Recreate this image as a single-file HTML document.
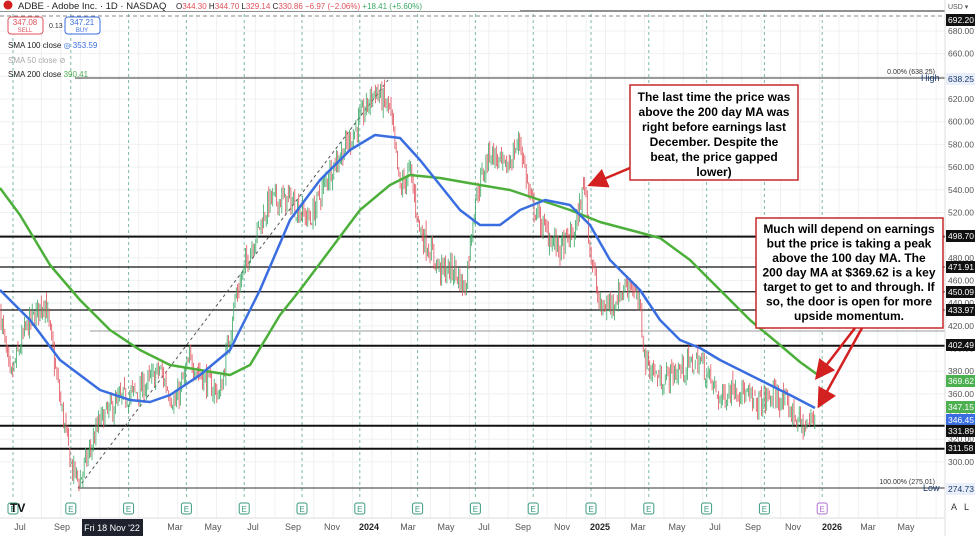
<!DOCTYPE html>
<html><head><meta charset="utf-8"><style>
body{margin:0;background:#fff;width:975px;height:536px;overflow:hidden;font-family:"Liberation Sans",sans-serif}
svg{display:block}
.ax{font-size:8.5px;fill:#555}
.bx{font-weight:bold;font-size:12px;fill:#000}
</style></head><body>
<svg id="s" width="975" height="536" xmlns="http://www.w3.org/2000/svg"></svg>
<script>
const s=document.getElementById('s');let h='';
const Y=p=>31+(680-p)*1.134;
for(let x=22;x<945;x+=19.45)h+=`<line x1="${x}" y1="14" x2="${x}" y2="518" stroke="#eef0f3"/>`;
for(let p=300;p<=680;p+=20)h+=`<line x1="0" y1="${Y(p)}" x2="945" y2="${Y(p)}" stroke="#eef0f3"/>`;
const months=[[20,'Jul'],[62,'Sep'],[175,'Mar'],[213,'May'],[253,'Jul'],[293,'Sep'],[332,'Nov'],[369,'2024'],[408,'Mar'],[446,'May'],[484,'Jul'],[523,'Sep'],[562,'Nov'],[600,'2025'],[638,'Mar'],[677,'May'],[715,'Jul'],[753,'Sep'],[793,'Nov'],[832,'2026'],[868,'Mar'],[906,'May']];
for(let k=0;k<15;k++){let x=13+57.8*k;h+=`<line x1="${x}" y1="14" x2="${x}" y2="500" stroke="#7fb8a8" stroke-dasharray="3,3"/>`;
 let c=k==14?'#b070d0':'#3a9a80';h+=`<rect x="${x-5}" y="503" width="10" height="11" rx="2" fill="#fff" stroke="${c}"/><text x="${x}" y="512" font-size="8" fill="${c}" text-anchor="middle">E</text>`;}
h+=`<line x1="0" y1="11" x2="945" y2="11" stroke="#222"/><line x1="0" y1="16" x2="945" y2="16" stroke="#888" stroke-dasharray="4,3"/>`;
[498.7,471.91,450.09,433.97,402.49,331.89,311.58].forEach(p=>h+=`<line x1="0" y1="${Y(p)}" x2="945" y2="${Y(p)}" stroke="#111" stroke-width="${p==433.97||p==471.91||p==450.09?1.3:2}"/>`);
h+=`<line x1="90" y1="331" x2="945" y2="331" stroke="#999"/>`;
h+=`<line x1="75" y1="78" x2="945" y2="78" stroke="#333"/><line x1="78" y1="488" x2="945" y2="488" stroke="#333"/>`;
h+=`<text x="935" y="74" font-size="7" fill="#333" text-anchor="end">0.00% (638.25)</text><text x="935" y="484" font-size="7" fill="#333" text-anchor="end">100.00% (275.01)</text>`;
h+=`<text x="921" y="81" font-size="9" fill="#1a3a6a">High</text><text x="923" y="491" font-size="9" fill="#1a3a6a">Low</text>`;
h+=`<line x1="78" y1="488" x2="388" y2="80" stroke="#555" stroke-dasharray="3,3"/>`;
const P=[[0,434],[10,372],[25,416],[45,443],[60,355],[72,293],[80,284],[100,337],[120,355],[140,363],[160,381],[175,350],[190,390],[205,372],[220,359],[235,443],[250,487],[270,531],[290,531],[310,513],[330,557],[350,584],[375,628],[390,610],[400,540],[410,557],[420,504],[440,469],[455,469],[465,452],[475,531],[490,575],[505,557],[520,584],[530,531],[545,504],[560,487],[575,504],[585,549],[590,487],[600,434],[615,443],[630,460],[640,434],[645,390],[660,372],[680,381],[700,390],[710,372],[720,355],[735,368],[755,350],[775,359],[790,346],[805,329],[815,342]];
function interp(A,x){for(let i=1;i<A.length;i++)if(x<=A[i][0]){let a=A[i-1],b=A[i];return a[1]+(b[1]-a[1])*(x-a[0])/(b[0]-a[0]);}return A[A.length-1][1];}
let seed=7;const r=()=>{seed=(seed*16807)%2147483647;return seed/2147483647;};
let prev=interp(P,0);
for(let x=1;x<=815;x+=1.3){let c=interp(P,x)+(r()-0.5)*20;let o=prev+(r()-0.5)*8;let hi=Math.max(o,c)+r()*7,lo=Math.min(o,c)-r()*7;
 let col=c>=o?'#3aa864':'#e0505a';
 h+=`<line x1="${x}" y1="${Y(hi)}" x2="${x}" y2="${Y(lo)}" stroke="${col}" stroke-width="0.8"/>`;prev=c;}
const B=[[0,290],[30,320],[60,360],[100,390],[130,400],[150,402],[170,395],[200,375],[230,350],[260,290],[290,220],[320,180],[350,150],[375,135],[400,138],[420,160],[440,185],[460,210],[480,225],[500,225],[520,210],[545,200],[570,205],[590,225],[610,260],[640,290],[660,320],[680,340],[700,348],[720,360],[750,375],[790,395],[815,408]];
const G=[[0,188],[20,215],[50,265],[80,300],[110,330],[140,350],[170,365],[200,370],[230,375],[250,365],[280,315],[300,290],[330,250],[360,210],[390,185],[410,175],[440,178],[480,185],[510,190],[540,200],[570,210],[600,222],[630,230],[660,238],[690,260],[720,290],[750,320],[780,345],[800,362],[818,375]];
const pl=(A,c)=>`<polyline fill="none" stroke="${c}" stroke-width="2.5" stroke-linejoin="round" points="${A.map(a=>a.join(',')).join(' ')}"/>`;
h+=pl(G,'#4caf3a')+pl(B,'#3a6ee0');
h+=`<rect x="630" y="85" width="168" height="95" fill="#fff" stroke="#c62828" stroke-width="1.5"/>`;
['The last time the price was','above the 200 day MA was','right before earnings last','December. Despite the','beat, the price gapped','lower)'].forEach((t,i)=>h+=`<text class="bx" x="714" y="${101+i*15}" text-anchor="middle">${t}</text>`);
h+=`<rect x="756" y="218" width="187" height="110" fill="#fff" stroke="#c62828" stroke-width="1.5"/>`;
['Much will depend on earnings','but the price is taking a peak','above the 100 day MA.   The','200 day MA at $369.62 is a key','target to get to and through.  If','so, the door is open for more','upside momentum.'].forEach((t,i)=>h+=`<text class="bx" x="849" y="${233+i*14.5}" text-anchor="middle" font-size="11.5">${t}</text>`);
h+=`<defs><marker id="a" markerWidth="8" markerHeight="8" refX="6" refY="4" orient="auto"><path d="M0,0L8,4L0,8z" fill="#d32020"/></marker></defs>`;
h+=`<line x1="630" y1="168" x2="592" y2="184" stroke="#d32020" stroke-width="2.5" marker-end="url(#a)"/>`;
h+=`<line x1="855" y1="328" x2="818" y2="376" stroke="#d32020" stroke-width="2.5" marker-end="url(#a)"/>`;
h+=`<line x1="862" y1="328" x2="820" y2="404" stroke="#d32020" stroke-width="2.5" marker-end="url(#a)"/>`;
h+=`<rect x="945" y="0" width="30" height="536" fill="#fff"/><line x1="945" y1="0" x2="945" y2="536" stroke="#ddd"/>`;
for(let p=300;p<=680;p+=20)h+=`<text class="ax" x="948" y="${Y(p)+3}">${p}.00</text>`;
h+=`<text x="948" y="9" font-size="7" fill="#555">USD ▾</text>`;
const tags=[[692.2,'692.20','#111',20],[638.25,'638.25','#e8eefa',79],[498.7,'498.70','#111',236],[471.91,'471.91','#111',267],[450.09,'450.09','#111',292],[433.97,'433.97','#111',310],[402.49,'402.49','#111',345],[369.62,'369.62','#4caf50',381],[347.15,'347.15','#4caf50',407],[346.45,'346.45','#3a6ee0',420],[331.89,'331.89','#111',431],[311.58,'311.58','#111',448],[274.73,'274.73','#e8eefa',489]];
tags.forEach(t=>{let fg=t[2]=='#e8eefa'?'#1a3a6a':'#fff';h+=`<rect x="946" y="${t[3]-6}" width="29" height="12" fill="${t[2]}"/><text x="948" y="${t[3]+3}" font-size="8.5" fill="${fg}">${t[1]}</text>`;});
h+=`<text x="951" y="510" font-size="9" fill="#333">A</text><text x="964" y="510" font-size="9" fill="#333">L</text>`;
h+=`<line x1="0" y1="518" x2="945" y2="518" stroke="#ddd"/>`;
months.forEach(m=>h+=`<text x="${m[0]}" y="530" font-size="9" fill="${m[1].length==4?'#222':'#555'}" font-weight="${m[1].length==4?'bold':'normal'}" text-anchor="middle">${m[1]}</text>`);
h+=`<rect x="82" y="519" width="61" height="17" fill="#1e222d"/><text x="112" y="531" font-size="9" fill="#fff" text-anchor="middle">Fri 18 Nov '22</text>`;
h+=`<text x="10" y="512" font-size="12" font-weight="bold" fill="#111">TV</text>`;
h+=`<rect x="0" y="0" width="520" height="11" fill="#fff"/><circle cx="8" cy="5" r="4.5" fill="#d32020"/><text x="18" y="9" font-size="9.5" fill="#222">ADBE · Adobe Inc. · 1D · NASDAQ</text>`;
h+=`<text x="176" y="9" font-size="8" fill="#222">O<tspan fill="#e0505a">344.30</tspan> H<tspan fill="#e0505a">344.70</tspan> L<tspan fill="#e0505a">329.14</tspan> C<tspan fill="#e0505a">330.86 −6.97 (−2.06%)</tspan> <tspan fill="#3aa864">+18.41 (+5.60%)</tspan></text>`;
h+=`<rect x="8" y="17" width="35" height="17" rx="3" fill="#fff" stroke="#e0505a"/><text x="25" y="25" font-size="8" fill="#e0505a" text-anchor="middle">347.08</text><text x="25" y="32" font-size="6" fill="#e0505a" text-anchor="middle">SELL</text>`;
h+=`<text x="49" y="28" font-size="7" fill="#333">0.13</text>`;
h+=`<rect x="65" y="17" width="35" height="17" rx="3" fill="#fff" stroke="#3a6ee0"/><text x="82" y="25" font-size="8" fill="#3a6ee0" text-anchor="middle">347.21</text><text x="82" y="32" font-size="6" fill="#3a6ee0" text-anchor="middle">BUY</text>`;
h+=`<text x="8" y="48" font-size="8" fill="#222">SMA 100 close <tspan fill="#3a6ee0">◎ 353.59</tspan></text>`;
h+=`<text x="8" y="63" font-size="8" fill="#aaa">SMA 50 close  ⊘</text>`;
h+=`<text x="8" y="77" font-size="8" fill="#222">SMA 200 close <tspan fill="#4caf50">   390.41</tspan></text>`;
s.innerHTML=h;
</script>
</body></html>
